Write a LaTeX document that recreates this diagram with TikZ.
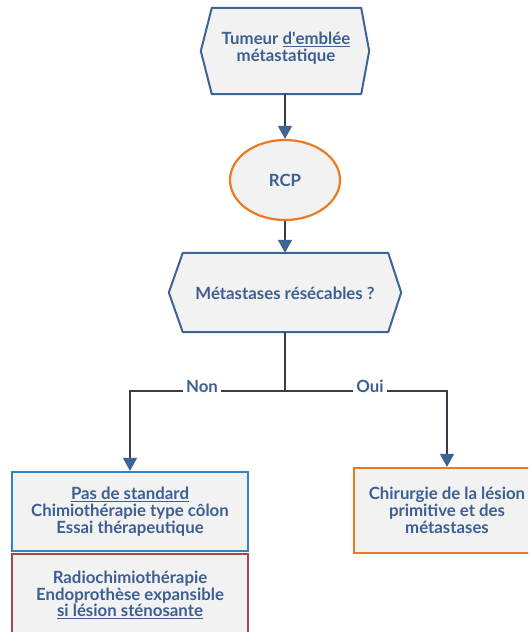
\documentclass[tikz,border=0pt]{standalone}
\usepackage{fontspec}
\setmainfont{Lato}[Ligatures=ResetAll]
\usetikzlibrary{arrows.meta,shapes.geometric}
\definecolor{txtblue}{HTML}{3D5F91}
\definecolor{hexblue}{HTML}{3E6496}
\definecolor{boxblue}{HTML}{2E86C8}
\definecolor{boxred}{HTML}{A8474A}
\definecolor{boxorange}{HTML}{EC7A23}
\definecolor{linegray}{HTML}{3A3A4A}
\definecolor{panel}{HTML}{F2F2F2}
\tikzset{
  txt/.style={text=txtblue, font=\fontsize{16.8}{16.8}\selectfont\bfseries, align=center},
  hexframe/.style={draw=hexblue, line width=2pt, fill=panel, line join=round},
  plainbox/.style={txt, fill=panel, line width=2.2pt, inner sep=0pt},
  conn/.style={draw=linegray, line width=1.6pt},
  arrowconn/.style={conn, -{Triangle[length=13pt, width=14pt, color=hexblue]}},
  lbl/.style={txt, fill=white, inner sep=3pt}
}
\begin{document}
\begin{tikzpicture}[x=1pt,y=-1pt]
\useasboundingbox (0,0) rectangle (528,632);
\clip (0,0) rectangle (528,632);

% top hexagon: tumour
\node[minimum width=168pt, minimum height=86pt, inner sep=0pt] (h1) at (285,51) {};
\draw[hexframe] (h1.west) -- ([xshift=11pt]h1.north west) -- ([xshift=-8pt]h1.north east)
  -- (h1.east) -- ([xshift=-8pt]h1.south east) -- ([xshift=11pt]h1.south west) -- cycle;
\node[txt] at (286,48) {Tumeur \underline{d\textquotesingle emblée}\\métastatique};

% multidisciplinary meeting
\node[ellipse, draw=boxorange, line width=2.2pt, fill=panel, minimum width=110pt,
      minimum height=80pt, inner sep=0pt, txt] (rcp) at (285,180) {RCP};

% decision hexagon
\node[minimum width=232pt, minimum height=79pt, inner sep=0pt] (h2) at (285,292.5) {};
\draw[hexframe] (h2.west) -- ([xshift=14pt]h2.north west) -- ([xshift=-13pt]h2.north east)
  -- (h2.east) -- ([xshift=-13pt]h2.south east) -- ([xshift=14pt]h2.south west) -- cycle;
\node[txt] at (285,293) {Métastases résécables ?};

% outcome boxes
\node[plainbox, draw=boxblue, minimum width=236pt, minimum height=79pt] (std) at (130,511.5)
  {\underline{Pas de standard}\\Chimiothérapie type côlon\\Essai thérapeutique};
\node[plainbox, draw=boxred, minimum width=236pt, minimum height=82pt] (radio) at (130,595)
  {Radiochimiothérapie\\Endoprothèse expansible\\\underline{si lésion sténosante}};
\node[plainbox, draw=boxorange, minimum width=186pt, minimum height=85pt] (chir) at (447,510.5)
  {Chirurgie de la lésion\\primitive et des\\métastases};

% connectors
\coordinate (split) at (285,391);
\draw[arrowconn] (h1.south) -- (rcp.north);
\draw[arrowconn] (rcp.south) -- (h2.north);
\draw[conn] (h2.south) -- (split);
\draw[arrowconn] (split) -| (std.north);
\draw[arrowconn] (split) -| (chir.north);
\node[lbl] (non) at (202,386) {Non};
\node[lbl] (oui) at (370,386) {Oui};
\end{tikzpicture}
\end{document}
